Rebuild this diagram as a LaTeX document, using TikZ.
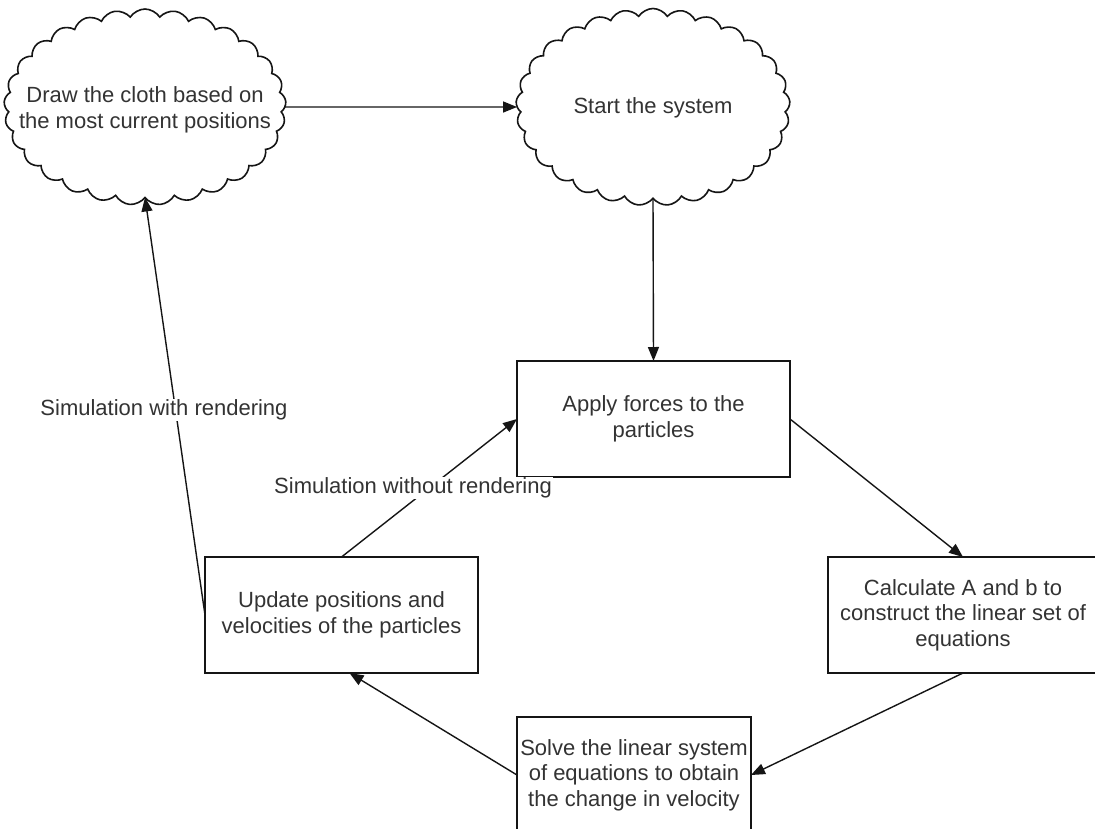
\documentclass[tikz,border=0pt]{standalone}
\usepackage{fontspec}
\setmainfont{Liberation Sans}
\usetikzlibrary{shapes.symbols,arrows.meta,calc}
\definecolor{txt}{HTML}{333333}
\definecolor{ln}{HTML}{151515}
\begin{document}
\begin{tikzpicture}[x=1pt,y=-1pt,
  every node/.style={font=\fontsize{22}{25.5}\selectfont, text=txt},
  stepbox/.style={draw=ln, line width=1.8pt, align=center, inner sep=0pt, outer sep=0pt, minimum height=116pt},
  cloudnode/.style={cloud, draw=ln, cloud puffs=29, cloud puff arc=115, cloud ignores aspect, line width=1.6pt, inner sep=0pt, outer sep=0pt},
  conn/.style={draw=ln, line width=1.4pt, -{Triangle[length=14pt,width=11pt]}},
  lbl/.style={fill=white, inner sep=1pt}]
\clip (0,0) rectangle (1095,828);
\fill[white] (0,0) rectangle (1095,828);

% clouds
\node[cloudnode, minimum width=282pt, minimum height=196pt] (draw) at (145,107) {};
\node[align=center] (drawtxt) at (145,110) {Draw the cloth based on\\the most current positions};
\node[cloudnode, minimum width=274pt, minimum height=197pt] (start) at (653,107) {};
\node (starttxt) at (653,108) {Start the system};

% boxes
\node[stepbox, minimum width=273pt] (apply) at (653.5,419) {Apply forces to the\\particles};
\node[stepbox, minimum width=273pt] (update) at (341.5,615) {Update positions and\\velocities of the particles};
\node[stepbox, minimum width=270pt] (calc) at (963,615) {Calculate A and b to\\construct the linear set of\\equations};
\node[stepbox, minimum width=234pt] (solve) at (634,775) {Solve the linear system\\of equations to obtain\\the change in velocity};

% connectors
\draw[conn] (draw.east) -- (start.west);
\draw[conn] (start.south) -- (apply.north);
\draw[conn] (apply.east) -- (calc.north);
\draw[conn] (calc.south) -- (solve.east);
\draw[conn] (solve.west) -- ([xshift=8pt]update.south);
\draw[conn] (update.north) -- (apply.west);
\draw[conn] (update.west) -- (draw.south);
\node[lbl] (lblwithout) at (413,488) {Simulation without rendering};
\node[lbl] (lblwith) at (164,410) {Simulation with rendering};
\end{tikzpicture}
\end{document}
